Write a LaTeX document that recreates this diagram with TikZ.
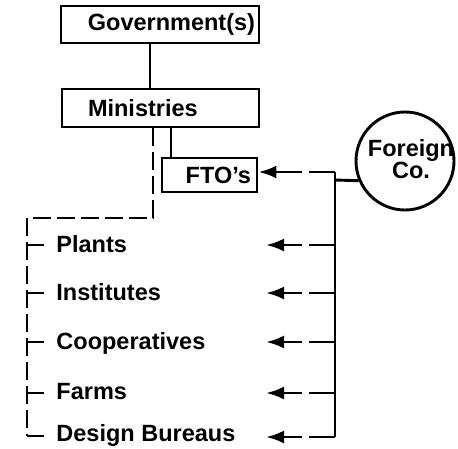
\documentclass[tikz,border=0pt]{standalone}
\usepackage{fontspec}
\setmainfont{Liberation Sans}
\usetikzlibrary{arrows.meta}
\newcommand{\dfont}{\bfseries\fontsize{23.5}{20}\selectfont}
\begin{document}
\begin{tikzpicture}[x=1pt,y=-1pt,line width=2.9pt,
  box/.style={draw,rectangle,line width=2.9pt,font=\dfont,inner ysep=0pt},
  item/.style={font=\dfont,anchor=base west,inner sep=0pt},
  dsh/.style={dash pattern=on 18pt off 6pt},
  arr/.style={-{Latex[length=18pt,width=13pt]},dash pattern=on 26pt off 7pt}]
\useasboundingbox (0,0) rectangle (458,448);
% boxes
\node[box,minimum height=37pt,inner xsep=4pt,text width=190pt,align=right] (gov) at (160,24.5) {Government(s)};
\node[box,minimum height=38pt,inner xsep=26pt,text width=145pt,align=left] (min) at (160.5,108) {Ministries};
\node[box,minimum height=34pt,inner xsep=6pt,text width=83pt,align=right] (fto) at (209.5,175) {FTO's};
\node[draw,circle,minimum size=98pt,inner sep=0pt,line width=2.9pt] (foreign) at (405,161) {};
\node[font=\dfont,align=center,inner sep=0pt] (ftext) at (411,159) {Foreign\\Co.};
% list items
\node[item] (plants) at (55,252) {Plants};
\node[item] (inst) at (55,300) {Institutes};
\node[item] (coop) at (55,349) {Cooperatives};
\node[item] (farms) at (55,399) {Farms};
\node[item] (design) at (55,441) {Design Bureaus};
% coordinates
\coordinate (ltop) at (27,218);
\coordinate (lbot) at (27,436);
\coordinate (t1) at (27,245);
\coordinate (t2) at (27,293);
\coordinate (t3) at (27,342);
\coordinate (t4) at (27,393);
\coordinate (t5) at (27,436);
\coordinate (rc) at (335,172);
\coordinate (rb) at (335,437);
\coordinate (rj) at (335,180);
\coordinate (a1) at (266,245);
\coordinate (a2) at (266,293);
\coordinate (a3) at (266,342);
\coordinate (a4) at (266,393);
\coordinate (a5) at (266,437);
% solid connectors
\draw ([xshift=-10pt]gov.south) -- ([xshift=-10pt]gov.south |- min.north);
\draw ([xshift=10.5pt]min.south) -- ([xshift=10.5pt]min.south |- fto.north);
% dashed trunk
\draw[dsh] ([xshift=-7.5pt]min.south) |- (ltop) -- (lbot);
\foreach \t/\n in {t1/plants,t2/inst,t3/coop,t4/farms,t5/design}
  \draw (\t) -- ++(17,0);
% right side
\draw (rc) -- (rb);
\draw (rj) -- (foreign.203);
\draw[arr] (rc) -- (rc -| fto.east);
\foreach \a in {a1,a2,a3,a4,a5}
  \draw[arr] (rc |- \a) -- (\a);
\end{tikzpicture}
\end{document}
